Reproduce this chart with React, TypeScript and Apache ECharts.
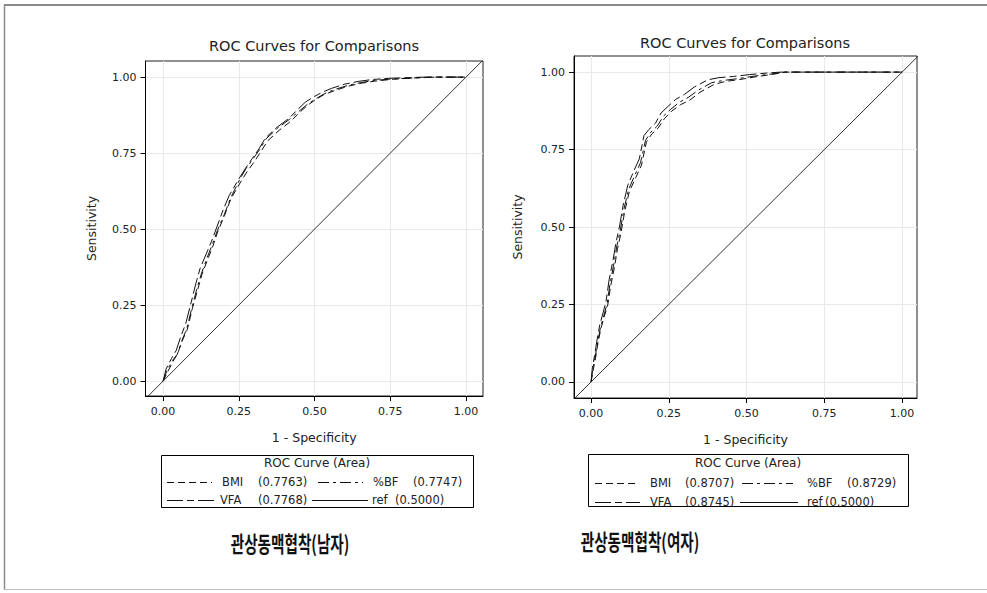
import React, { useEffect, useRef } from "react";
import * as echarts from "echarts";

const tickValues = [0, 0.25, 0.5, 0.75, 1];
const seriesNames = ["BMI", "%BF", "VFA", "ref"];
const aucMale = ["0.7763", "0.7747", "0.7768", "0.5000"];
const aucFemale = ["0.8707", "0.8729", "0.8745", "0.5000"];
const chartTitle = "ROC Curves for Comparisons";
const legendTitle = "ROC Curve (Area)";
const xAxisName = "1 - Specificity";
const yAxisName = "Sensitivity";
const panelLabels = ["관상동맥협착(남자)", "관상동맥협착(여자)"];

const maleBMI = [[0,0],[0.015,0.03],[0.033,0.065],[0.048,0.09],[0.062,0.13],[0.08,0.17],[0.097,0.24],[0.114,0.3],[0.128,0.35],[0.147,0.4],[0.163,0.44],[0.18,0.49],[0.203,0.545],[0.224,0.6],[0.256,0.655],[0.278,0.69],[0.3,0.72],[0.323,0.755],[0.345,0.79],[0.383,0.825],[0.422,0.855],[0.452,0.885],[0.478,0.908],[0.505,0.927],[0.532,0.943],[0.565,0.955],[0.61,0.97],[0.655,0.98],[0.7,0.987],[0.76,0.993],[0.88,1],[1,1]];
const maleVFA = [[0,0],[0.01,0.04],[0.028,0.075],[0.043,0.1],[0.058,0.145],[0.075,0.19],[0.093,0.26],[0.108,0.32],[0.122,0.37],[0.141,0.415],[0.158,0.455],[0.175,0.5],[0.197,0.56],[0.218,0.61],[0.25,0.665],[0.272,0.7],[0.295,0.733],[0.317,0.765],[0.338,0.8],[0.376,0.835],[0.415,0.864],[0.446,0.895],[0.47,0.918],[0.497,0.935],[0.525,0.95],[0.556,0.963],[0.6,0.977],[0.645,0.986],[0.69,0.992],[0.745,0.996],[0.86,1],[1,1]];
const maleBF = [[0,0],[0.013,0.035],[0.031,0.068],[0.047,0.088],[0.063,0.135],[0.079,0.175],[0.096,0.245],[0.112,0.305],[0.127,0.355],[0.145,0.405],[0.162,0.448],[0.179,0.495],[0.202,0.548],[0.223,0.603],[0.253,0.663],[0.273,0.698],[0.296,0.73],[0.319,0.762],[0.34,0.797],[0.378,0.832],[0.417,0.861],[0.449,0.888],[0.476,0.91],[0.503,0.928],[0.53,0.944],[0.562,0.958],[0.608,0.972],[0.652,0.982],[0.697,0.989],[0.755,0.994],[0.9,1],[1,1]];

const femaleBMI = [[0,0],[0.006,0.035],[0.014,0.075],[0.022,0.125],[0.031,0.17],[0.042,0.21],[0.053,0.245],[0.063,0.31],[0.075,0.37],[0.085,0.43],[0.096,0.48],[0.108,0.55],[0.123,0.615],[0.144,0.66],[0.162,0.7],[0.178,0.775],[0.195,0.8],[0.216,0.82],[0.236,0.85],[0.26,0.875],[0.288,0.895],[0.318,0.91],[0.35,0.935],[0.395,0.96],[0.432,0.97],[0.478,0.976],[0.53,0.985],[0.585,0.993],[0.625,1],[1,1]];
const femaleVFA = [[0,0],[0.004,0.045],[0.012,0.09],[0.019,0.135],[0.028,0.185],[0.039,0.225],[0.048,0.26],[0.058,0.33],[0.07,0.39],[0.08,0.45],[0.091,0.5],[0.103,0.57],[0.118,0.635],[0.137,0.68],[0.155,0.72],[0.17,0.795],[0.186,0.815],[0.207,0.835],[0.225,0.868],[0.248,0.89],[0.272,0.912],[0.3,0.928],[0.332,0.952],[0.375,0.975],[0.41,0.982],[0.458,0.986],[0.51,0.992],[0.565,0.997],[0.61,1],[1,1]];
const femaleBF = [[0,0],[0.005,0.04],[0.013,0.08],[0.021,0.128],[0.03,0.175],[0.041,0.215],[0.051,0.25],[0.061,0.318],[0.073,0.38],[0.083,0.44],[0.094,0.49],[0.106,0.56],[0.121,0.622],[0.141,0.668],[0.159,0.708],[0.175,0.78],[0.192,0.806],[0.213,0.826],[0.232,0.857],[0.256,0.88],[0.283,0.902],[0.312,0.918],[0.345,0.942],[0.388,0.966],[0.425,0.973],[0.472,0.979],[0.525,0.987],[0.58,0.994],[0.62,1],[1,1]];

const refLine = [[-0.1, -0.1], [1.1, 1.1]];

const FONT = "DejaVu Sans";
const DASH: Record<string, any> = {
  BMI: [7, 4],
  "%BF": [11, 4, 3, 4],
  VFA: [16, 4, 7, 4],
  ref: "solid",
};

export default function App() {
  const ref = useRef<HTMLDivElement>(null);
  useEffect(() => {
    if (!ref.current) return;
    const chart = echarts.init(ref.current, undefined, { renderer: "svg" });

    const grids = [
      { left: 145.5, top: 61, width: 337.5, height: 335 },
      { left: 574, top: 56, width: 343, height: 342 },
    ];
    const xr = [[-0.058, 1.056], [-0.055, 1.048]];
    const yr = [[-0.049, 1.053], [-0.052, 1.052]];
    const yNameGap = [48, 50];

    const axisCommon = {
      axisLine: { onZero: false, lineStyle: { color: "#000", width: 1 } },
      axisTick: { show: true, inside: false, length: 5, customValues: tickValues, lineStyle: { color: "#000" } },
      axisLabel: {
        customValues: tickValues,
        formatter: (v: number) => v.toFixed(2),
        color: "#222",
        fontFamily: FONT,
        fontSize: 11,
      },
      splitLine: { show: true, lineStyle: { color: "#e9e9e9", width: 1 } },
      nameLocation: "middle" as const,
      nameTextStyle: { fontFamily: FONT, fontSize: 12.5, color: "#222" },
    };

    const xAxis = [0, 1].map((i) => ({
      ...axisCommon,
      type: "value",
      gridIndex: i,
      min: xr[i][0],
      max: xr[i][1],
      name: xAxisName,
      nameGap: 35,
      axisLabel: { ...axisCommon.axisLabel, margin: 10 },
    }));
    const yAxis = [0, 1].map((i) => ({
      ...axisCommon,
      type: "value",
      gridIndex: i,
      min: yr[i][0],
      max: yr[i][1],
      name: yAxisName,
      nameGap: yNameGap[i],
      axisLabel: { ...axisCommon.axisLabel, margin: 9 },
    }));

    const panels = [
      { data: [maleBMI, maleBF, maleVFA, refLine] },
      { data: [femaleBMI, femaleBF, femaleVFA, refLine] },
    ];
    const series: any[] = [];
    panels.forEach((p, i) => {
      p.data.forEach((d, k) => {
        const name = seriesNames[k];
        series.push({
          type: "line",
          name,
          xAxisIndex: i,
          yAxisIndex: i,
          data: d,
          symbol: "none",
          clip: true,
          lineStyle: {
            color: name === "ref" ? "#333" : "#111",
            width: 1,
            type: DASH[name],
          },
          z: name === "ref" ? 1 : 3,
        });
      });
    });

    const legendLayouts = [
      {
        box: { x: 161, y: 455, w: 312, h: 52 },
        titleX: 317,
        titleY: 463,
        aucs: aucMale,
        entries: [
          { l: [167, 212], y: 482, n: 222, a: 258 },
          { l: [318, 363], y: 482, n: 373, a: 413 },
          { l: [167, 217], y: 500, n: 220, a: 258 },
          { l: [312, 368], y: 500, n: 372, a: 395 },
        ],
      },
      {
        box: { x: 588, y: 454, w: 320, h: 52 },
        titleX: 748,
        titleY: 463,
        aucs: aucFemale,
        entries: [
          { l: [595, 638], y: 483, n: 650, a: 685 },
          { l: [742, 793], y: 483, n: 807, a: 847 },
          { l: [595, 640], y: 502, n: 650, a: 685 },
          { l: [740, 798], y: 502, n: 807, a: 825 },
        ],
      },
    ];

    const graphic: any[] = [];
    graphic.push({ type: "line", shape: { x1: 4, y1: 5, x2: 987, y2: 5 }, style: { stroke: "#8a8a8a", lineWidth: 2 } });
    graphic.push({ type: "line", shape: { x1: 4.5, y1: 5, x2: 4.5, y2: 590 }, style: { stroke: "#8a8a8a", lineWidth: 1.5 } });
    graphic.push({ type: "line", shape: { x1: 4, y1: 589.5, x2: 987, y2: 589.5 }, style: { stroke: "#bdbdbd", lineWidth: 1 } });

    const titlePos = [[314, 46], [745, 43]];
    titlePos.forEach(([x, y]) => {
      graphic.push({
        type: "text",
        x,
        y,
        style: { text: chartTitle, textAlign: "center", textVerticalAlign: "middle", fontFamily: FONT, fontSize: 14.5, fill: "#222" },
      });
    });

    legendLayouts.forEach((lg) => {
      graphic.push({
        type: "rect",
        shape: { x: lg.box.x + 0.5, y: lg.box.y + 0.5, width: lg.box.w, height: lg.box.h },
        style: { fill: "#fff", stroke: "#000", lineWidth: 1 },
      });
      graphic.push({
        type: "text",
        x: lg.titleX,
        y: lg.titleY,
        style: { text: legendTitle, textAlign: "center", textVerticalAlign: "middle", fontFamily: FONT, fontSize: 12, fill: "#222" },
      });
      lg.entries.forEach((e, k) => {
        const name = seriesNames[k];
        const dash = DASH[name];
        graphic.push({
          type: "line",
          shape: { x1: e.l[0], y1: e.y + 0.5, x2: e.l[1], y2: e.y + 0.5 },
          style: { stroke: "#111", lineWidth: 1, lineDash: dash === "solid" ? null : dash },
        });
        graphic.push({
          type: "text",
          x: e.n,
          y: e.y,
          style: { text: name, textAlign: "left", textVerticalAlign: "middle", fontFamily: FONT, fontSize: 11.5, fill: "#222" },
        });
        graphic.push({
          type: "text",
          x: e.a,
          y: e.y,
          style: { text: "(" + lg.aucs[k] + ")", textAlign: "left", textVerticalAlign: "middle", fontFamily: FONT, fontSize: 11.5, fill: "#222" },
        });
      });
    });

    const labelPos = [[290, 543], [640, 541]];
    labelPos.forEach(([x, y], i) => {
      graphic.push({
        type: "text",
        x,
        y,
        scaleX: 0.68,
        style: {
          text: panelLabels[i],
          textAlign: "center",
          textVerticalAlign: "middle",
          fontFamily: "Noto Sans CJK KR",
          fontWeight: "bold",
          fontSize: 21.5,
          fill: "#111",
        },
      });
    });

    chart.setOption({
      animation: false,
      backgroundColor: "#fff",
      grid: grids.map((g) => ({ ...g, show: true, borderColor: "#222", borderWidth: 1, backgroundColor: "transparent", containLabel: false })),
      xAxis,
      yAxis,
      series,
      graphic,
    });
    return () => chart.dispose();
  }, []);
  return <div ref={ref} style={{ position: "absolute", left: 0, top: 0, width: 987, height: 593, background: "#fff" }} />;
}
